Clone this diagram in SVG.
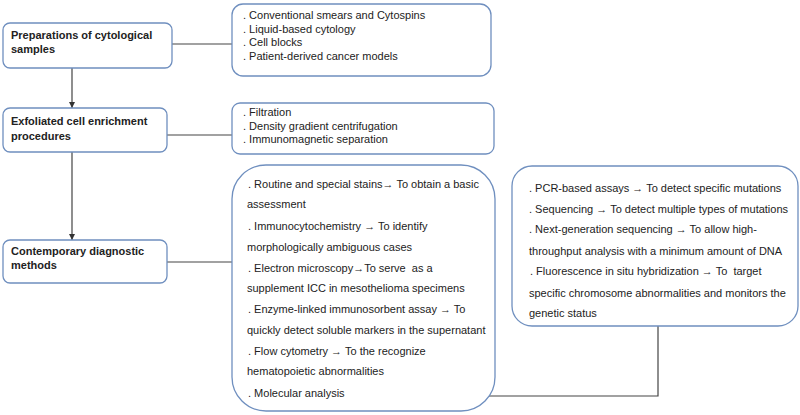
<svg xmlns="http://www.w3.org/2000/svg" width="800" height="415" viewBox="0 0 800 415">
<style>
.box{fill:#fff;stroke:#6f8fbf;stroke-width:1.3}
.t{font-family:"Liberation Sans",Arial,sans-serif;font-size:11px;fill:#222;white-space:pre}
.b{font-family:"Liberation Sans",Arial,sans-serif;font-size:11px;font-weight:bold;fill:#222}
.c{fill:none;stroke:#444;stroke-width:1.2}
</style>
<defs>
<marker id="ah" viewBox="0 0 6 6" refX="6" refY="3" markerWidth="6" markerHeight="6" orient="auto" markerUnits="userSpaceOnUse">
<path d="M0,0 L6,3 L0,6 Z" fill="#333"/>
</marker>
</defs>
<rect width="800" height="415" fill="#fff"/>
<g id="connectors">
<path class="c" d="M172,44 H232"/>
<path class="c" d="M167,135 H232"/>
<path class="c" d="M167,262 H232"/>
<path class="c" d="M72,68 V108" marker-end="url(#ah)"/>
<path class="c" d="M72,152 V240" marker-end="url(#ah)"/>
<path class="c" d="M352,396 H658 V326"/>
</g>
<g id="n1">
<rect class="box" x="3" y="23" width="169" height="45" rx="7"/>
<text class="b" x="11" y="39">Preparations of cytological</text>
<text class="b" x="11" y="53">samples</text>
</g>
<g id="n1list">
<rect class="box" x="232" y="4" width="259" height="72" rx="11"/>
<text class="t" x="243" y="19">. Conventional smears and Cytospins</text>
<text class="t" x="243" y="33">. Liquid-based cytology</text>
<text class="t" x="243" y="46">. Cell blocks</text>
<text class="t" x="243" y="60">. Patient-derived cancer models</text>
</g>
<g id="n2">
<rect class="box" x="3" y="108" width="164" height="44" rx="7"/>
<text class="b" x="11" y="125">Exfoliated cell enrichment</text>
<text class="b" x="11" y="140">procedures</text>
</g>
<g id="n2list">
<rect class="box" x="232" y="103" width="262" height="51" rx="8"/>
<text class="t" x="243" y="116">. Filtration</text>
<text class="t" x="243" y="130">. Density gradient centrifugation</text>
<text class="t" x="243" y="143">. Immunomagnetic separation</text>
</g>
<g id="n3">
<rect class="box" x="3" y="240" width="164" height="43" rx="7"/>
<text class="b" x="11" y="255">Contemporary diagnostic</text>
<text class="b" x="11" y="269">methods</text>
</g>
<g id="n3list">
<rect class="box" x="232" y="165" width="263" height="246" rx="34"/>
<text class="t" x="248" y="188">. Routine and special stains→ To obtain a basic</text>
<text class="t" x="247" y="208">assessment</text>
<text class="t" x="248" y="230">. Immunocytochemistry → To identify</text>
<text class="t" x="247" y="251">morphologically ambiguous cases</text>
<text class="t" x="248" y="272" xml:space="preserve">. Electron microscopy→To serve  as a</text>
<text class="t" x="247" y="292">supplement ICC in mesothelioma specimens</text>
<text class="t" x="248" y="313">. Enzyme-linked immunosorbent assay → To</text>
<text class="t" x="247" y="334">quickly detect soluble markers in the supernatant</text>
<text class="t" x="248" y="355">. Flow cytometry → To the recognize</text>
<text class="t" x="247" y="375">hematopoietic abnormalities</text>
<text class="t" x="248" y="397">. Molecular analysis</text>
</g>
<g id="n4">
<rect class="box" x="512" y="166" width="286" height="160" rx="20"/>
<text class="t" x="529" y="192">. PCR-based assays → To detect specific mutations</text>
<text class="t" x="529" y="213">. Sequencing → To detect multiple types of mutations</text>
<text class="t" x="529" y="233">. Next-generation sequencing → To allow high-</text>
<text class="t" x="529" y="255">throughput analysis with a minimum amount of DNA</text>
<text class="t" x="530" y="275" xml:space="preserve">. Fluorescence in situ hybridization → To  target</text>
<text class="t" x="529" y="297">specific chromosome abnormalities and monitors the</text>
<text class="t" x="529" y="317">genetic status</text>
</g>
</svg>
